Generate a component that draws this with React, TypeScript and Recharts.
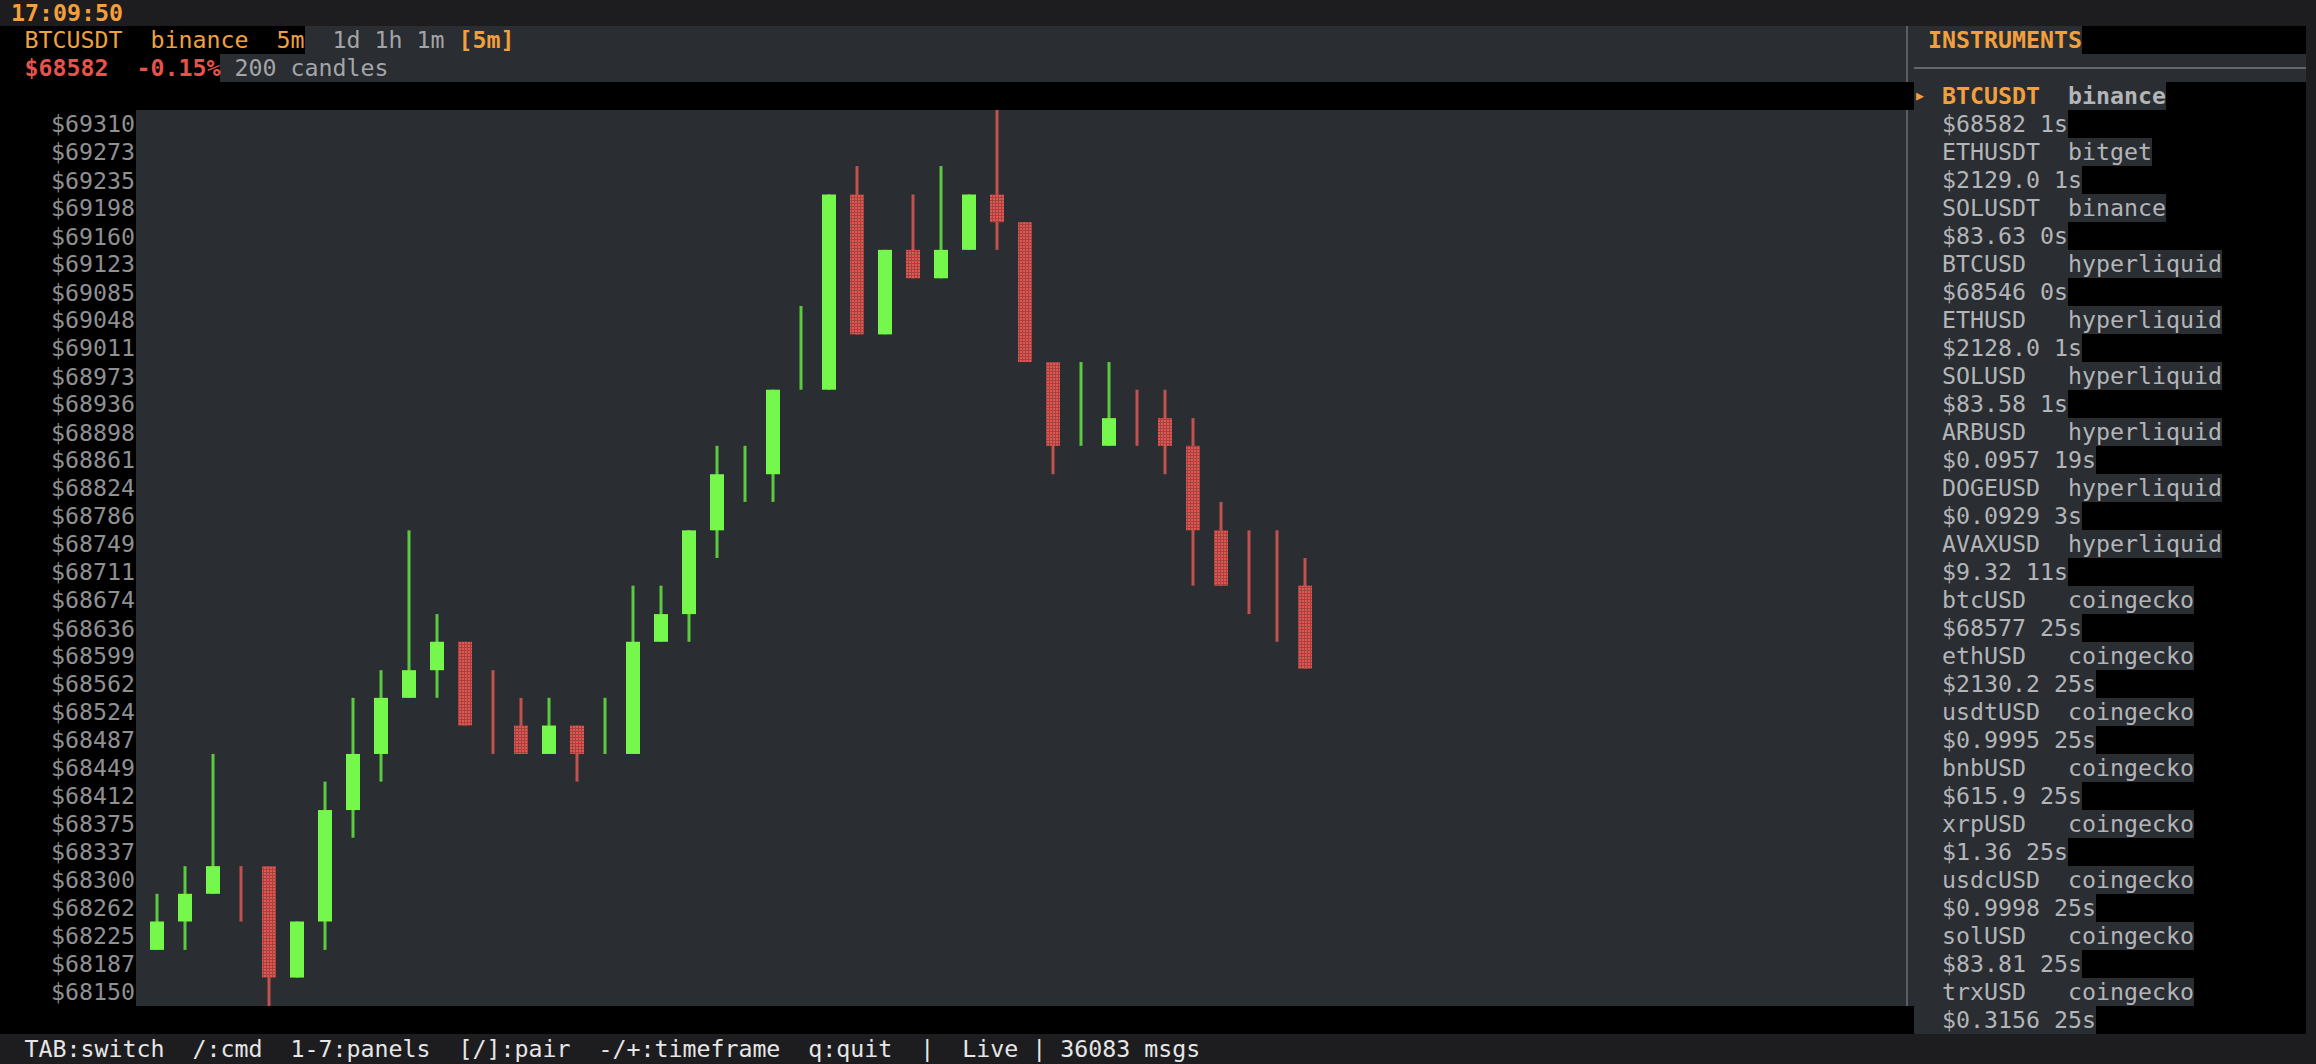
import { Bar, ComposedChart, XAxis, YAxis } from 'recharts'

const MONO = '"DejaVu Sans Mono", "Liberation Mono", monospace'
const FS = 23.25 // terminal font size
const CW = 14 // one terminal cell

const ORANGE = '#f2a03d'
const RED_TXT = '#e5534b'
const PANEL = '#2a2d31'
const BAR_BG = '#1d1d1f'
const GREEN = '#75f84b'
const GREEN_WICK = '#5acb3f'
const RED_WICK = '#c0524e'

// 5m candles, BTCUSDT binance
const TIMES = [
  '13:40', '13:45', '13:50', '13:55', '14:00', '14:05', '14:10', '14:15', '14:20', '14:25', '14:30', '14:35', '14:40', '14:45',
  '14:50', '14:55', '15:00', '15:05', '15:10', '15:15', '15:20', '15:25', '15:30', '15:35', '15:40', '15:45', '15:50', '15:55',
  '16:00', '16:05', '16:10', '16:15', '16:20', '16:25', '16:30', '16:35', '16:40', '16:45', '16:50', '16:55', '17:00', '17:05',
]
const OPEN = [
  68206, 68244, 68281, 68282, 68318, 68169, 68244, 68393, 68468, 68543, 68580, 68618, 68526, 68506,
  68468, 68506, 68504, 68468, 68618, 68655, 68767, 68840, 68842, 69009, 68955, 69216, 69029, 69142,
  69104, 69142, 69216, 69179, 68992, 68934, 68880, 68919, 68917, 68880, 68767, 68713, 68694, 68693,
]
const HIGH = [
  68281, 68318, 68468, 68318, 68318, 68244, 68431, 68543, 68580, 68767, 68655, 68618, 68580, 68543,
  68543, 68506, 68543, 68693, 68693, 68767, 68880, 68880, 68955, 69067, 69216, 69254, 69142, 69216,
  69254, 69216, 69329, 69179, 68992, 68992, 68992, 68955, 68955, 68917, 68805, 68767, 68767, 68730,
]
const LOW = [
  68206, 68206, 68281, 68244, 68131, 68169, 68206, 68356, 68431, 68543, 68543, 68506, 68468, 68468,
  68468, 68431, 68468, 68468, 68618, 68618, 68730, 68805, 68805, 68955, 68955, 69029, 69029, 69104,
  69104, 69142, 69142, 68992, 68842, 68880, 68880, 68880, 68842, 68693, 68693, 68655, 68618, 68582,
]
const CLOSE = [
  68244, 68281, 68318, 68280, 68169, 68244, 68393, 68468, 68543, 68580, 68618, 68506, 68522, 68468,
  68506, 68468, 68508, 68618, 68655, 68767, 68842, 68844, 68955, 69013, 69216, 69029, 69142, 69104,
  69142, 69216, 69179, 68992, 68880, 68938, 68917, 68915, 68880, 68767, 68693, 68709, 68690, 68582,
]
const PRICE_TICKS = [
  69310, 69273, 69235, 69198, 69160, 69123, 69085, 69048, 69011, 68973, 68936, 68898, 68861, 68824, 68786, 68749,
  68711, 68674, 68636, 68599, 68562, 68524, 68487, 68449, 68412, 68375, 68337, 68300, 68262, 68225, 68187, 68150,
]

const SYMBOLS = ['BTCUSDT', 'ETHUSDT', 'SOLUSDT', 'BTCUSD', 'ETHUSD', 'SOLUSD', 'ARBUSD', 'DOGEUSD', 'AVAXUSD',
  'btcUSD', 'ethUSD', 'usdtUSD', 'bnbUSD', 'xrpUSD', 'usdcUSD', 'solUSD', 'trxUSD']
const EXCHANGES = ['binance', 'bitget', 'binance', 'hyperliquid', 'hyperliquid', 'hyperliquid', 'hyperliquid', 'hyperliquid',
  'hyperliquid', 'coingecko', 'coingecko', 'coingecko', 'coingecko', 'coingecko', 'coingecko', 'coingecko', 'coingecko']
const PRICES = ['$68582', '$2129.0', '$83.63', '$68546', '$2128.0', '$83.58', '$0.0957', '$0.0929', '$9.32',
  '$68577', '$2130.2', '$0.9995', '$615.9', '$1.36', '$0.9998', '$83.81', '$0.3156']
const AGES = ['1s', '1s', '0s', '0s', '1s', '1s', '19s', '3s', '11s', '25s', '25s', '25s', '25s', '25s', '25s', '25s', '25s']

const candles = TIMES.map((t, i) => ({ t, open: OPEN[i], high: HIGH[i], low: LOW[i], close: CLOSE[i] }))

function Candle(props: any) {
  const { x, y, width, height, payload } = props
  if (!payload || !height) return null
  const { open, high, low, close } = payload
  const cx = x + width / 2
  const k = height / (high - low)
  const top = y + (high - Math.max(open, close)) * k
  const bot = y + (high - Math.min(open, close)) * k
  const up = close >= open
  return (
    <g>
      <rect x={cx - 1.5} y={y} width={3} height={height} fill={up ? GREEN_WICK : RED_WICK} />
      {bot - top >= 4 && (
        <rect x={x} y={top} width={width} height={bot - top} fill={up ? GREEN : 'url(#redDots)'} />
      )}
    </g>
  )
}

function Box({ x, y, w, h, c }: { x: number; y: number; w: number; h: number; c: string }) {
  return <div style={{ position: 'absolute', left: x, top: y, width: w, height: h, background: c }} />
}

function Txt({ x, y, h = 28, children, style }: any) {
  return (
    <div style={{ position: 'absolute', left: x, top: y, height: h, lineHeight: `${h}px`, whiteSpace: 'pre', ...style }}>
      {children}
    </div>
  )
}

function Instruments() {
  const rows: any[] = []
  SYMBOLS.forEach((s, i) => {
    const sel = i === 0
    const y1 = 82 + i * 56
    const y2 = y1 + 28
    const name = s.padEnd(9, ' ')
    const l1 = name.length + EXCHANGES[i].length
    const second = `${PRICES[i]} ${AGES[i]}`
    rows.push(<Box key={`b1${i}`} x={1942 + l1 * CW} y={y1} w={2306 - 1942 - l1 * CW} h={28} c="#000" />)
    rows.push(<Box key={`b2${i}`} x={1942 + second.length * CW} y={y2} w={2306 - 1942 - second.length * CW} h={28} c="#000" />)
    if (sel) {
      rows.push(
        <Txt key={`a${i}`} x={1916} y={y1} style={{ color: ORANGE, fontSize: 13 }}>▶</Txt>,
      )
    }
    rows.push(
      <Txt key={`n${i}`} x={1942} y={y1} style={{ color: '#b3b5b8', fontWeight: sel ? 700 : 400 }}>
        <span style={{ color: sel ? ORANGE : '#b3b5b8' }}>{name}</span>
        {EXCHANGES[i]}
      </Txt>,
      <Txt key={`p${i}`} x={1942} y={y2} style={{ color: '#b3b5b8' }}>{second}</Txt>,
    )
  })
  return <>{rows}</>
}

export default function App() {
  return (
    <div
      style={{
        position: 'fixed', left: 0, top: 0, width: 2316, height: 1064, background: '#000', overflow: 'hidden',
        fontFamily: MONO, fontSize: FS,
      }}
    >
      <svg width={0} height={0} style={{ position: 'absolute' }}>
        <defs>
          <pattern id="redDots" width={3} height={3} patternUnits="userSpaceOnUse">
            <rect width={3} height={3} fill="#a44341" />
            <rect width={2} height={2} fill="#e3574f" />
          </pattern>
        </defs>
      </svg>

      {/* backgrounds */}
      <Box x={0} y={0} w={2316} h={26} c={BAR_BG} />
      <Box x={305} y={26} w={1602} h={28} c={PANEL} />
      <Box x={220} y={54} w={1687} h={28} c={PANEL} />
      <Box x={136} y={110} w={1771} h={896} c={PANEL} />
      <Box x={1907} y={26} w={399} h={1008} c={PANEL} />
      <Box x={1906} y={26} w={2} h={1008} c="#5a5d62" />
      <Box x={1928 + 11 * CW} y={26} w={2306 - 1928 - 11 * CW} h={28} c="#000" />
      <Box x={1914} y={67} w={392} h={2} c="#63666b" />
      <Instruments />
      <Box x={0} y={82} w={1914} h={28} c="#000" />
      <Box x={0} y={1006} w={1914} h={28} c="#000" />
      <Box x={2306} y={0} w={10} h={1064} c={BAR_BG} />
      <Box x={0} y={1034} w={2316} h={30} c={BAR_BG} />

      {/* header */}
      <Txt x={11} y={2} h={22} style={{ color: ORANGE, fontWeight: 700 }}>17:09:50</Txt>
      <Txt x={10.5} y={26}>
        <span style={{ color: ORANGE }}> BTCUSDT  binance  5m</span>
        <span style={{ color: '#a3a5a8' }}>  1d 1h 1m </span>
        <span style={{ color: ORANGE, fontWeight: 700 }}>[5m]</span>
      </Txt>
      <Txt x={10.5} y={54}>
        <span style={{ color: RED_TXT, fontWeight: 700 }}> $68582  -0.15%</span>
        <span style={{ color: '#a3a5a8' }}> 200 candles</span>
      </Txt>
      <Txt x={1928} y={26} style={{ color: ORANGE, fontWeight: 700 }}>INSTRUMENTS</Txt>

      {/* chart */}
      <div style={{ position: 'absolute', left: 0, top: 0 }}>
        <ComposedChart width={1907} height={1006} data={candles} margin={{ top: 110, right: 0, bottom: 0, left: 0 }}>
          <XAxis dataKey="t" hide padding={{ left: 7, right: 588 }} />
          <YAxis
            domain={[68131, 69329]}
            ticks={PRICE_TICKS}
            interval={0}
            allowDataOverflow
            width={136}
            axisLine={false}
            tickLine={false}
            tickSize={0}
            tickMargin={1}
            tickFormatter={(v: number) => `$${v}`}
            tick={{ fill: '#8f9092', fontSize: FS, fontFamily: MONO }}
          />
          <Bar
            dataKey={(d: any) => [d.low, d.high]}
            barSize={14}
            shape={<Candle />}
            isAnimationActive={false}
          />
        </ComposedChart>
      </div>

      {/* status bar */}
      <Txt x={10.5} y={1034} h={30} style={{ color: '#e6e6e6' }}>
        {' TAB:switch  /:cmd  1-7:panels  [/]:pair  -/+:timeframe  q:quit  |  Live | 36083 msgs'}
      </Txt>
    </div>
  )
}
